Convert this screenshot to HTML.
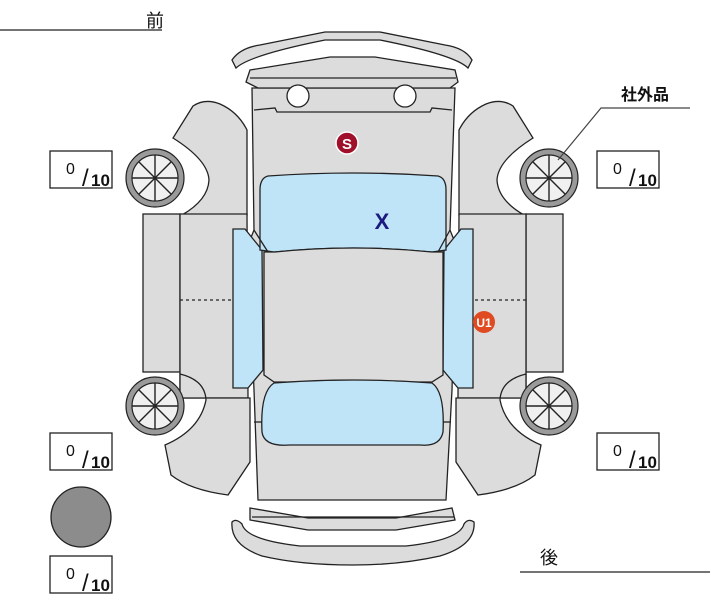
<!DOCTYPE html>
<html><head><meta charset="utf-8"><style>
html,body{margin:0;padding:0;background:#fff;width:711px;height:600px;overflow:hidden}
svg{display:block}
text{font-family:"Liberation Sans","Noto Sans CJK JP",sans-serif}
</style></head><body>
<svg width="711" height="600" viewBox="0 0 711 600" xmlns="http://www.w3.org/2000/svg">
<g stroke="#222" stroke-width="1.3" fill="#dcdcdc">
<defs>
<g id="half">
  <path d="M193,106 Q205,98 220,104 Q238,112 247,130 L247,215 L182,215 Q208,200 209,180 Q208,160 173,138 Z"/>
  <rect x="143" y="214" width="37" height="158"/>
  <path d="M180,214 L247,214 L248,398 L180,398 Z"/>
  <line x1="180" y1="300" x2="233" y2="300" stroke-dasharray="3,3"/>
  <path d="M180,374 Q205,380 206,400 Q200,430 165,445 L171,475 Q190,490 228,495 L250,462 L250,398 L180,398 Z"/>
</g>
<g id="win">
  <path d="M233,229 L245,229 L262,250 L263,370 L248,388 L233,388 Z" fill="#bfe3f7"/>
</g>
<g id="wheel">
  <circle r="29" fill="#9a9a9a"/>
  <circle r="23" fill="#f0f0f0"/>
  <g stroke-width="1.4"><line x1="-23" y1="0" x2="23" y2="0"/><line x1="0" y1="-23" x2="0" y2="23"/><line x1="-16" y1="-16" x2="16" y2="16"/><line x1="-16" y1="16" x2="16" y2="-16"/></g>
</g>
</defs>
<use href="#half"/>
<use href="#half" transform="translate(706,0) scale(-1,1)"/>
<path d="M252,88 L455,88 L450,230 L456,245 L452,390 L446,500 L258,500 L254,390 L248,245 L254,230 Z"/>
<use href="#win"/>
<use href="#win" transform="translate(706,0) scale(-1,1)"/>
<path d="M254,110 L275,108 L277,112 L430,112 L432,108 L452,110" fill="none"/>
<path d="M232,60 Q240,48 260,45 L325,32 L380,32 L445,45 Q465,48 472,60 L468,68 Q455,55 380,40 L325,40 Q250,55 236,68 Z"/>
<path d="M250,70 L330,57 L375,57 L455,70 L458,82 L450,88 L258,88 L246,82 Z"/>
<line x1="250" y1="78" x2="456" y2="78"/>
<circle cx="298" cy="96" r="11" fill="#fff"/>
<circle cx="405" cy="96" r="11" fill="#fff"/>
<path d="M268,176 Q353,170 438,176 Q446,178 446,190 L446,250 L432,252 Q353,244 274,252 L260,250 L260,190 Q260,178 268,176 Z" fill="#bfe3f7"/>
<path d="M264,252 L275,252 Q353,244 432,252 L443,252 L443,375 L432,382 L274,382 L264,375 Z"/>
<line x1="254" y1="230" x2="268" y2="252"/><line x1="450" y1="230" x2="438" y2="252"/>
<path d="M274,383 Q353,377 432,383 Q445,392 443,432 Q440,447 420,445 L290,445 Q264,447 262,432 Q260,392 274,383 Z" fill="#bfe3f7"/>
<line x1="254" y1="422" x2="262" y2="422"/><line x1="443" y1="422" x2="451" y2="422"/>
<path d="M250,508 L308,518 L396,518 L452,508 L455,520 L396,530 L308,530 L250,520 Z"/>
<line x1="252" y1="517" x2="454" y2="517"/>
<path d="M232,522 Q236,518 242,524 Q246,540 300,546 L406,546 Q460,540 464,524 Q468,518 474,522 Q476,545 440,556 Q400,565 353,565 Q300,565 262,556 Q230,545 232,522 Z"/>
</g>
<g stroke="#222" stroke-width="1.2">
<use href="#wheel" x="155" y="178"/>
<use href="#wheel" x="155" y="406"/>
<use href="#wheel" x="549" y="178"/>
<use href="#wheel" x="549" y="406"/>
</g>
<circle cx="347" cy="143" r="11" fill="#a0102a" stroke="#fff" stroke-width="1.5"/>
<text x="347" y="149" font-size="15" font-weight="bold" fill="#fff" text-anchor="middle">S</text>
<text x="382" y="229" font-size="22" font-weight="bold" fill="#1a1a80" text-anchor="middle">X</text>
<circle cx="484" cy="322" r="11" fill="#e04a20"/>
<text x="484" y="327" font-size="12" font-weight="bold" fill="#fff" text-anchor="middle">U1</text>
<text x="146" y="27" font-size="18" fill="#111">前</text>
<line x1="0" y1="30" x2="162" y2="30" stroke="#222" stroke-width="1.3"/>
<text x="540" y="564" font-size="18" fill="#111">後</text>
<line x1="520" y1="572" x2="710" y2="572" stroke="#222" stroke-width="1.3"/>
<text x="621" y="100" font-size="16" font-weight="bold" fill="#111">社外品</text>
<polyline points="690,108 601,108 558,160" fill="none" stroke="#444" stroke-width="1.2"/>
<g fill="#fff" stroke="#222" stroke-width="1.3">
<rect x="50" y="151" width="62" height="37"/>
<rect x="597" y="151" width="62" height="37"/>
<rect x="50" y="433" width="62" height="37"/>
<rect x="597" y="433" width="62" height="37"/>
<rect x="50" y="556" width="62" height="37"/>
</g>
<circle cx="81" cy="517" r="30" fill="#8c8c8c" stroke="#222" stroke-width="1.3"/>
<g font-size="16" fill="#111">
<text x="66" y="174">0</text><text x="82" y="186" font-size="24">/</text><text x="91" y="186" font-weight="bold" font-size="17">10</text>
<text x="613" y="174">0</text><text x="629" y="186" font-size="24">/</text><text x="638" y="186" font-weight="bold" font-size="17">10</text>
<text x="66" y="456">0</text><text x="82" y="468" font-size="24">/</text><text x="91" y="468" font-weight="bold" font-size="17">10</text>
<text x="613" y="456">0</text><text x="629" y="468" font-size="24">/</text><text x="638" y="468" font-weight="bold" font-size="17">10</text>
<text x="66" y="579">0</text><text x="82" y="591" font-size="24">/</text><text x="91" y="591" font-weight="bold" font-size="17">10</text>
</g>
</svg>
</body></html>
